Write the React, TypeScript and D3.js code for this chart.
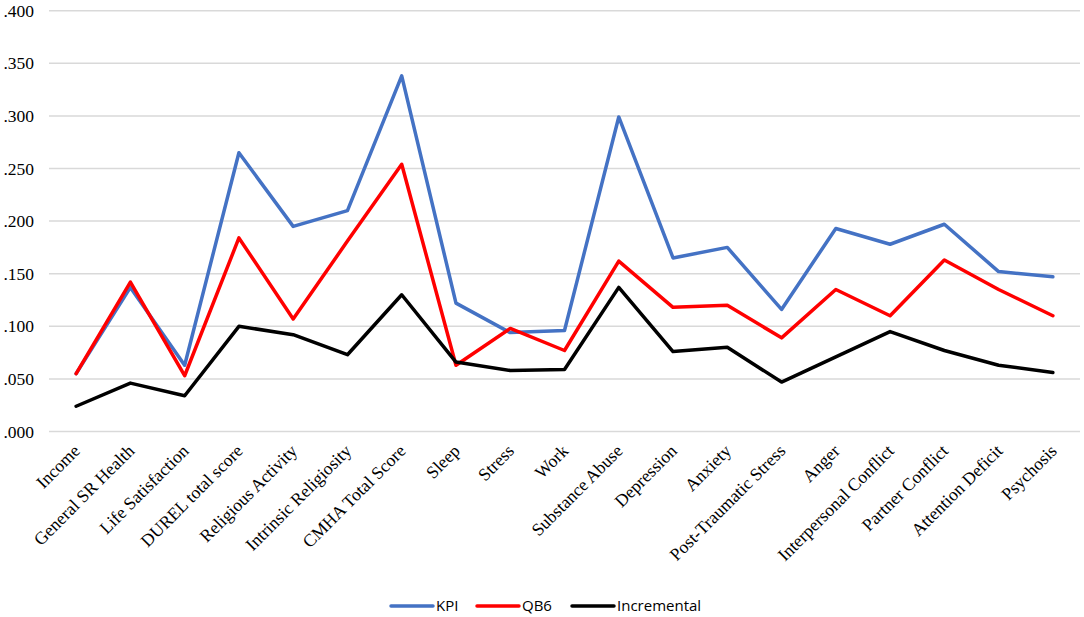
import * as d3 from 'd3';

const categories = [
  'Income', 'General SR Health', 'Life Satisfaction', 'DUREL total score', 'Religious Activity',
  'Intrinsic Religiosity', 'CMHA  Total Score', 'Sleep', 'Stress', 'Work', 'Substance Abuse',
  'Depression', 'Anxiety', 'Post-Traumatic Stress', 'Anger', 'Interpersonal Conflict',
  'Partner Conflict', 'Attention Deficit', 'Psychosis',
];

const kpi = [.055, .137, .063, .265, .195, .210, .338, .122, .094, .096, .299, .165, .175, .116, .193, .178, .197, .152, .147];
const qb6 = [.055, .142, .053, .184, .107, .181, .254, .063, .098, .077, .162, .118, .120, .089, .135, .110, .163, .135, .110];
const incremental = [.024, .046, .034, .100, .092, .073, .130, .066, .058, .059, .137, .076, .080, .047, .071, .095, .077, .063, .056];

const yTicks = [0, .05, .1, .15, .2, .25, .3, .35, .4];

const series = [
  { name: 'KPI', values: kpi, color: '#4472C4' },
  { name: 'QB6', values: qb6, color: '#FF0000' },
  { name: 'Incremental', values: incremental, color: '#000000' },
];

const W = 1084;
const H = 617;

const App = () => {
  const x = d3.scaleBand<string>().domain(categories).range([49, 1080]);
  const y = d3.scaleLinear().domain([0, 0.4]).range([431.5, 10.7]);
  const cx = (c: string) => (x(c) ?? 0) + x.bandwidth() / 2;

  const line = d3.line<number>()
    .x((_, i) => cx(categories[i]))
    .y(d => y(d));

  const fmt = (v: number) => d3.format('.3f')(v).replace(/^0/, '');

  // legend entries laid out left to right
  const legendX = [391, 477, 572];

  return (
    <svg width={W} height={H} style={{ position: 'absolute', left: 0, top: 0, background: '#fff' }}>
      {yTicks.map(t => (
        <g key={t}>
          <line x1={49} x2={1080} y1={y(t)} y2={y(t)} stroke="#d9d9d9" strokeWidth={1.5} />
          <text x={34} y={y(t)} dy="0.35em" textAnchor="end"
            fontFamily="'Liberation Serif', 'Times New Roman', serif" fontSize={17.5} fill="#000">
            {fmt(t)}
          </text>
        </g>
      ))}

      {categories.map(c => (
        <text key={c} transform={`translate(${cx(c) + 5},${452}) rotate(-45)`} textAnchor="end"
          fontFamily="'Liberation Serif', 'Times New Roman', serif" fontSize={17.7} fill="#000">
          {c}
        </text>
      ))}

      {series.map(s => (
        <path key={s.name} d={line(s.values) ?? ''} fill="none" stroke={s.color}
          strokeWidth={3.5} strokeLinejoin="round" strokeLinecap="round" />
      ))}

      {series.map((s, i) => (
        <g key={s.name} transform={`translate(${legendX[i]},606)`}>
          <line x1={0} x2={42} y1={0} y2={0} stroke={s.color} strokeWidth={3.5} strokeLinecap="round" />
          <text x={45} y={0} dy="0.35em" fontFamily="'Open Sans', sans-serif" fontSize={15} fill="#000">
            {s.name}
          </text>
        </g>
      ))}
    </svg>
  );
};

export default App;
